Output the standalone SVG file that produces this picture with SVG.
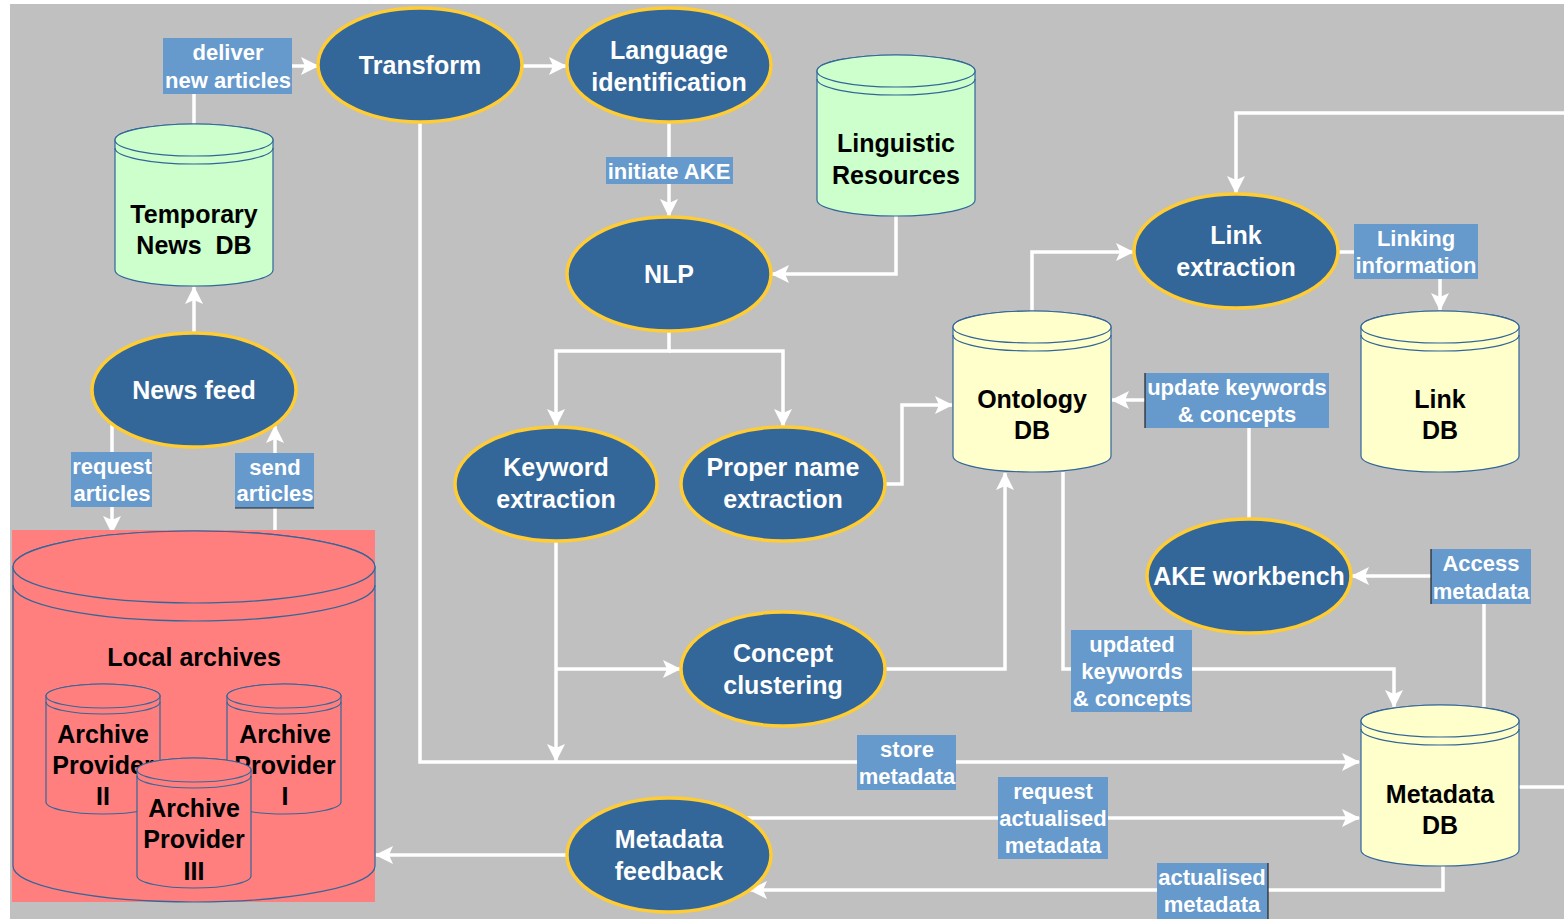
<svg xmlns="http://www.w3.org/2000/svg" width="1564" height="919" viewBox="0 0 1564 919">
  <defs>
    <marker id="arrow" markerUnits="userSpaceOnUse" markerWidth="18" markerHeight="18" viewBox="0 0 18 18" refX="17" refY="9" orient="auto">
      <path d="M0,0 L18,9 L0,18 L4,9 Z" fill="#ffffff"/>
    </marker>
    <style>
      .bg { fill: #c0c0c0; }
      .conn { fill: none; stroke: #ffffff; stroke-width: 3.5; stroke-linejoin: miter; }
      .proc { fill: #336699; stroke: #ffcc33; stroke-width: 3.5; }
      .ptxt { font-family: "Liberation Sans", Arial, sans-serif; font-weight: bold; font-size: 25px; fill: #ffffff; text-anchor: middle; }
      .green { fill: #ccffcc; stroke: #336699; stroke-width: 1.2; }
      .yellow { fill: #ffffcc; stroke: #336699; stroke-width: 1.2; }
      .red { fill: #ff7f7f; stroke: #336699; stroke-width: 1.2; }
      .rim { fill: none; stroke: #336699; stroke-width: 1.2; }
      .dtxt { font-family: "Liberation Sans", Arial, sans-serif; font-weight: bold; font-size: 25px; fill: #000000; text-anchor: middle; white-space: pre; }
      .lbox { fill: #6699cc; }
      .ltxt { font-family: "Liberation Sans", Arial, sans-serif; font-weight: bold; font-size: 22px; fill: #ffffff; text-anchor: middle; }
      .edge { stroke: #222222; stroke-width: 1.2; }
    </style>
  </defs>

  <rect x="0" y="0" width="1564" height="919" fill="#ffffff"/>
  <rect class="bg" x="10" y="4" width="1554" height="915"/>

  <!-- connectors -->
  <g id="connectors">
    <path class="conn" d="M194,124 V94"/>
    <path class="conn" d="M292,66 H318" marker-end="url(#arrow)"/>
    <path class="conn" d="M522,66 H566" marker-end="url(#arrow)"/>
    <path class="conn" d="M669,122 V216" marker-end="url(#arrow)"/>
    <path class="conn" d="M896,216 V274 H772" marker-end="url(#arrow)"/>
    <path class="conn" d="M669,331 V351 H556 V426" marker-end="url(#arrow)"/>
    <path class="conn" d="M669,351 H783 V426" marker-end="url(#arrow)"/>
    <path class="conn" d="M885,484 H902 V405 H952" marker-end="url(#arrow)"/>
    <path class="conn" d="M556,541 V761" marker-end="url(#arrow)"/>
    <path class="conn" d="M556,669 H680" marker-end="url(#arrow)"/>
    <path class="conn" d="M420,122 V762 H1359" marker-end="url(#arrow)"/>
    <path class="conn" d="M885,669 H1005 V473" marker-end="url(#arrow)"/>
    <path class="conn" d="M1032,311 V252 H1133" marker-end="url(#arrow)"/>
    <path class="conn" d="M1063,472 V669 H1394 V707" marker-end="url(#arrow)"/>
    <path class="conn" d="M1338,252 H1354"/>
    <path class="conn" d="M1440,279 V310" marker-end="url(#arrow)"/>
    <path class="conn" d="M1564,113 H1236 V193" marker-end="url(#arrow)"/>
    <path class="conn" d="M1519,787 H1564"/>
    <path class="conn" d="M1249,519 V428"/>
    <path class="conn" d="M1145,400 H1112" marker-end="url(#arrow)"/>
    <path class="conn" d="M1484,707 V604"/>
    <path class="conn" d="M1431,576 H1352" marker-end="url(#arrow)"/>
    <path class="conn" d="M747,818 H1359" marker-end="url(#arrow)"/>
    <path class="conn" d="M1443,866 V890 H750" marker-end="url(#arrow)"/>
    <path class="conn" d="M567,855 H376" marker-end="url(#arrow)"/>
    <path class="conn" d="M112,424 V533" marker-end="url(#arrow)"/>
    <path class="conn" d="M275,536 V426" marker-end="url(#arrow)"/>
    <path class="conn" d="M194,333 V287" marker-end="url(#arrow)"/>
  </g>

  <!-- local archives store with its providers -->
  <g id="local-archives">
    <rect x="12" y="530" width="363" height="372" fill="#ff7f7f"/>
    <path class="red" d="M13,567 A181,36 0 0 1 375,567 V866 A181,36 0 0 1 13,866 Z"/>
    <ellipse class="red" cx="194" cy="567" rx="181" ry="36"/>
    <path class="rim" d="M13,585 A181,36 0 0 0 375,585"/>
    <text class="dtxt" x="194" y="666">Local archives</text>
  </g>
  <g id="archive-provider-2">
    <path class="red" d="M46,696 A57,12 0 0 1 160,696 V802 A57,12 0 0 1 46,802 Z"/>
    <ellipse class="red" cx="103" cy="696" rx="57" ry="12"/>
    <path class="rim" d="M46,702 A57,12 0 0 0 160,702"/>
    <text class="dtxt" x="103" y="743">Archive</text>
    <text class="dtxt" x="103" y="774">Provider</text>
    <text class="dtxt" x="103" y="805">II</text>
  </g>
  <g id="archive-provider-1">
    <path class="red" d="M227,696 A57,12 0 0 1 341,696 V802 A57,12 0 0 1 227,802 Z"/>
    <ellipse class="red" cx="284" cy="696" rx="57" ry="12"/>
    <path class="rim" d="M227,702 A57,12 0 0 0 341,702"/>
    <text class="dtxt" x="285" y="743">Archive</text>
    <text class="dtxt" x="285" y="774">Provider</text>
    <text class="dtxt" x="285" y="805">I</text>
  </g>
  <g id="archive-provider-3">
    <path class="red" d="M137,770 A57,12 0 0 1 251,770 V876 A57,12 0 0 1 137,876 Z"/>
    <ellipse class="red" cx="194" cy="770" rx="57" ry="12"/>
    <path class="rim" d="M137,776 A57,12 0 0 0 251,776"/>
    <text class="dtxt" x="194" y="817">Archive</text>
    <text class="dtxt" x="194" y="848">Provider</text>
    <text class="dtxt" x="194" y="880">III</text>
  </g>

  <!-- data stores -->
  <g id="temporary-news-db">
    <path class="green" d="M115,140 A79,16 0 0 1 273,140 V270 A79,16 0 0 1 115,270 Z"/>
    <ellipse class="green" cx="194" cy="140" rx="79" ry="16"/>
    <path class="rim" d="M115,148 A79,16 0 0 0 273,148"/>
    <text class="dtxt" x="194" y="223">Temporary</text>
    <text class="dtxt" x="194" y="254">News  DB</text>
  </g>
  <g id="linguistic-resources">
    <path class="green" d="M817,71 A79,16 0 0 1 975,71 V200 A79,16 0 0 1 817,200 Z"/>
    <ellipse class="green" cx="896" cy="71" rx="79" ry="16"/>
    <path class="rim" d="M817,79 A79,16 0 0 0 975,79"/>
    <text class="dtxt" x="896" y="152">Linguistic</text>
    <text class="dtxt" x="896" y="184">Resources</text>
  </g>
  <g id="ontology-db">
    <path class="yellow" d="M953,327 A79,16 0 0 1 1111,327 V456 A79,16 0 0 1 953,456 Z"/>
    <ellipse class="yellow" cx="1032" cy="327" rx="79" ry="16"/>
    <path class="rim" d="M953,335 A79,16 0 0 0 1111,335"/>
    <text class="dtxt" x="1032" y="408">Ontology</text>
    <text class="dtxt" x="1032" y="439">DB</text>
  </g>
  <g id="link-db">
    <path class="yellow" d="M1361,327 A79,16 0 0 1 1519,327 V456 A79,16 0 0 1 1361,456 Z"/>
    <ellipse class="yellow" cx="1440" cy="327" rx="79" ry="16"/>
    <path class="rim" d="M1361,335 A79,16 0 0 0 1519,335"/>
    <text class="dtxt" x="1440" y="408">Link</text>
    <text class="dtxt" x="1440" y="439">DB</text>
  </g>
  <g id="metadata-db">
    <path class="yellow" d="M1361,721 A79,16 0 0 1 1519,721 V850 A79,16 0 0 1 1361,850 Z"/>
    <ellipse class="yellow" cx="1440" cy="721" rx="79" ry="16"/>
    <path class="rim" d="M1361,729 A79,16 0 0 0 1519,729"/>
    <text class="dtxt" x="1440" y="803">Metadata</text>
    <text class="dtxt" x="1440" y="834">DB</text>
  </g>

  <!-- processes -->
  <g id="transform">
    <ellipse class="proc" cx="420" cy="65" rx="102" ry="57"/>
    <text class="ptxt" x="420" y="74">Transform</text>
  </g>
  <g id="language-identification">
    <ellipse class="proc" cx="669" cy="65" rx="102" ry="57"/>
    <text class="ptxt" x="669" y="59">Language</text>
    <text class="ptxt" x="669" y="91">identification</text>
  </g>
  <g id="nlp">
    <ellipse class="proc" cx="669" cy="274" rx="102" ry="57"/>
    <text class="ptxt" x="669" y="283">NLP</text>
  </g>
  <g id="news-feed">
    <ellipse class="proc" cx="194" cy="390" rx="102" ry="57"/>
    <text class="ptxt" x="194" y="399">News feed</text>
  </g>
  <g id="keyword-extraction">
    <ellipse class="proc" cx="556" cy="484" rx="101" ry="57"/>
    <text class="ptxt" x="556" y="476">Keyword</text>
    <text class="ptxt" x="556" y="508">extraction</text>
  </g>
  <g id="proper-name-extraction">
    <ellipse class="proc" cx="783" cy="484" rx="102" ry="57"/>
    <text class="ptxt" x="783" y="476">Proper name</text>
    <text class="ptxt" x="783" y="508">extraction</text>
  </g>
  <g id="concept-clustering">
    <ellipse class="proc" cx="783" cy="669" rx="102" ry="57"/>
    <text class="ptxt" x="783" y="662">Concept</text>
    <text class="ptxt" x="783" y="694">clustering</text>
  </g>
  <g id="link-extraction">
    <ellipse class="proc" cx="1236" cy="251" rx="102" ry="57"/>
    <text class="ptxt" x="1236" y="244">Link</text>
    <text class="ptxt" x="1236" y="276">extraction</text>
  </g>
  <g id="ake-workbench">
    <ellipse class="proc" cx="1249" cy="576" rx="102" ry="57"/>
    <text class="ptxt" x="1249" y="585">AKE workbench</text>
  </g>
  <g id="metadata-feedback">
    <ellipse class="proc" cx="669" cy="855" rx="102" ry="57"/>
    <text class="ptxt" x="669" y="848">Metadata</text>
    <text class="ptxt" x="669" y="880">feedback</text>
  </g>

  <!-- connector labels -->
  <g id="labels">
    <rect class="lbox" x="163" y="38" width="129" height="56"/>
    <text class="ltxt" x="228" y="60">deliver</text>
    <text class="ltxt" x="228" y="88">new articles</text>

    <rect class="lbox" x="606" y="157" width="127" height="27"/>
    <text class="ltxt" x="669" y="179">initiate AKE</text>

    <rect class="lbox" x="71" y="452" width="81" height="55"/>
    <text class="ltxt" x="112" y="474">request</text>
    <text class="ltxt" x="112" y="501">articles</text>

    <rect class="lbox" x="235" y="453" width="79" height="55"/>
    <line class="edge" x1="235" y1="508" x2="314" y2="508"/>
    <text class="ltxt" x="275" y="475">send</text>
    <text class="ltxt" x="275" y="501">articles</text>

    <rect class="lbox" x="1354" y="224" width="124" height="55"/>
    <text class="ltxt" x="1416" y="246">Linking</text>
    <text class="ltxt" x="1416" y="273">information</text>

    <rect class="lbox" x="1145" y="373" width="184" height="55"/>
    <line class="edge" x1="1145" y1="373" x2="1145" y2="428"/>
    <text class="ltxt" x="1237" y="395">update keywords</text>
    <text class="ltxt" x="1237" y="422">&amp; concepts</text>

    <rect class="lbox" x="1431" y="549" width="100" height="55"/>
    <line class="edge" x1="1431" y1="549" x2="1431" y2="604"/>
    <text class="ltxt" x="1481" y="571">Access</text>
    <text class="ltxt" x="1481" y="599">metadata</text>

    <rect class="lbox" x="1071" y="630" width="121" height="82"/>
    <text class="ltxt" x="1132" y="652">updated</text>
    <text class="ltxt" x="1132" y="679">keywords</text>
    <text class="ltxt" x="1132" y="706">&amp; concepts</text>

    <rect class="lbox" x="857" y="735" width="99" height="55"/>
    <text class="ltxt" x="907" y="757">store</text>
    <text class="ltxt" x="907" y="784">metadata</text>

    <rect class="lbox" x="998" y="777" width="110" height="82"/>
    <text class="ltxt" x="1053" y="799">request</text>
    <text class="ltxt" x="1053" y="826">actualised</text>
    <text class="ltxt" x="1053" y="853">metadata</text>

    <rect class="lbox" x="1157" y="863" width="111" height="56"/>
    <line class="edge" x1="1268" y1="863" x2="1268" y2="919"/>
    <text class="ltxt" x="1212" y="885">actualised</text>
    <text class="ltxt" x="1212" y="912">metadata</text>
  </g>
</svg>
